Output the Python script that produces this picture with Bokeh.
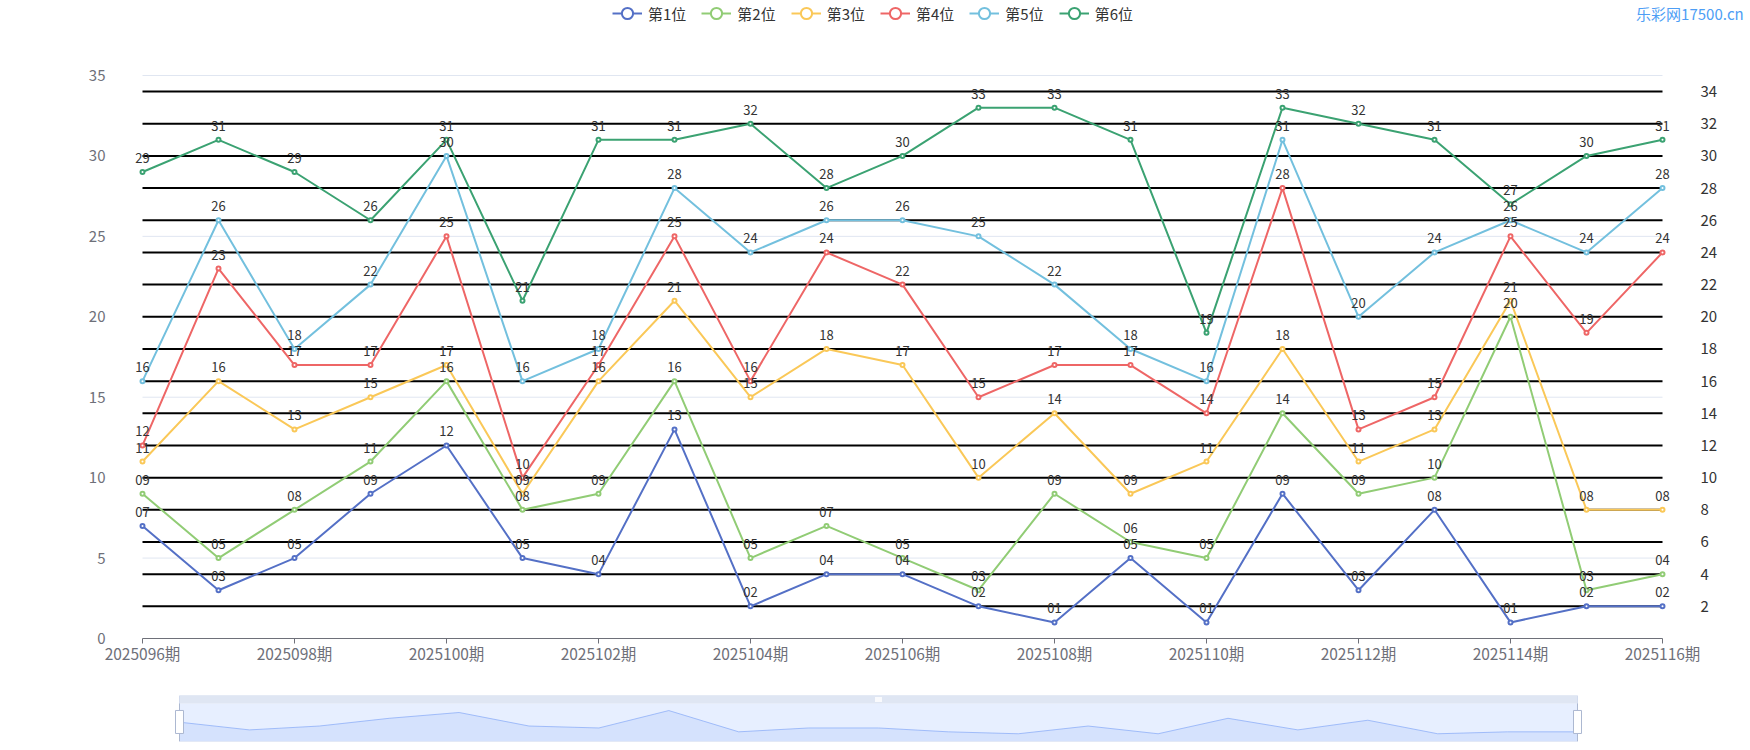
from bokeh.plotting import figure
from bokeh.models import (Range1d, LinearAxis, FixedTicker, Legend, LegendItem,
                          Label, LabelSet, ColumnDataSource)
from bokeh.layouts import column
from bokeh.embed import file_html
from bokeh.resources import INLINE
from bokeh.core.properties import value

# ---------------- data ----------------
periods = ["2025096期", "2025097期", "2025098期", "2025099期", "2025100期", "2025101期",
           "2025102期", "2025103期", "2025104期", "2025105期", "2025106期", "2025107期",
           "2025108期", "2025109期", "2025110期", "2025111期", "2025112期", "2025113期",
           "2025114期", "2025115期", "2025116期"]
pos1 = [7, 3, 5, 9, 12, 5, 4, 13, 2, 4, 4, 2, 1, 5, 1, 9, 3, 8, 1, 2, 2]
pos2 = [9, 5, 8, 11, 16, 8, 9, 16, 5, 7, 5, 3, 9, 6, 5, 14, 9, 10, 20, 3, 4]
pos3 = [11, 16, 13, 15, 17, 9, 16, 21, 15, 18, 17, 10, 14, 9, 11, 18, 11, 13, 21, 8, 8]
pos4 = [12, 23, 17, 17, 25, 10, 17, 25, 16, 24, 22, 15, 17, 17, 14, 28, 13, 15, 25, 19, 24]
pos5 = [16, 26, 18, 22, 30, 16, 18, 28, 24, 26, 26, 25, 22, 18, 16, 31, 20, 24, 26, 24, 28]
pos6 = [29, 31, 29, 26, 31, 21, 31, 31, 32, 28, 30, 33, 33, 31, 19, 33, 32, 31, 27, 30, 31]
series_names = ["第1位", "第2位", "第3位", "第4位", "第5位", "第6位"]
series_values = [pos1, pos2, pos3, pos4, pos5, pos6]
colors = ["#5470c6", "#91cc75", "#fac858", "#ee6666", "#73c0de", "#3ba272"]
left_ticks = [0, 5, 10, 15, 20, 25, 30, 35]
right_ticks = [2, 4, 6, 8, 10, 12, 14, 16, 18, 20, 22, 24, 26, 28, 30, 32, 34]
x_label_ticks = [0, 2, 4, 6, 8, 10, 12, 14, 16, 18, 20]
watermark = "乐彩网17500.cn"

FONT = "Noto Sans CJK SC"
xs = list(range(len(periods)))
n_last = xs[-1]

# ---------------- layout constants (page pixels) ----------------
W, H1, H2 = 1750, 680, 70
FL, FR = 120, 1745            # plotting frame (wide so labels / legend are not clipped)
DL, DR = 142, 1662            # where the data start / end
AX_Y = 638                    # x axis position
PX_X = (DR - DL) / n_last
PX_Y = (AX_Y - 75) / 35
YMAX = AX_Y / PX_Y

# ---------------- main chart ----------------
p = figure(width=W, height=H1,
           x_range=Range1d(xs[0] - (DL - FL) / PX_X, n_last + (FR - DR) / PX_X),
           y_range=Range1d(0, YMAX),
           output_backend="svg", toolbar_location=None,
           min_border_left=FL, min_border_right=W - FR, min_border_top=0,
           min_border_bottom=H1 - AX_Y)
p.outline_line_color = None
p.background_fill_color = "white"
p.border_fill_color = "white"
p.grid.visible = False

# x axis
xa = p.xaxis[0]
xa.bounds = (xs[0], n_last)
xa.ticker = FixedTicker(ticks=x_label_ticks)
xa.major_label_overrides = {i: periods[i] for i in x_label_ticks}
xa.axis_line_color = "#6E7079"
xa.major_tick_line_color = "#6E7079"
xa.major_tick_out = 5
xa.major_tick_in = 0
xa.minor_tick_line_color = None
xa.major_label_standoff = -2
xa.major_label_text_font = FONT
xa.major_label_text_font_size = "15.5px"
xa.major_label_text_color = "#6E7079"

# left y axis (labels end near x=105)
ya = p.yaxis[0]
ya.ticker = FixedTicker(ticks=left_ticks)
ya.axis_line_color = None
ya.major_tick_line_color = None
ya.minor_tick_line_color = None
ya.major_tick_out = 0
ya.major_tick_in = 0
ya.major_label_standoff = FL - 105
ya.major_label_text_font = FONT
ya.major_label_text_font_size = "15px"
ya.major_label_text_color = "#6E7079"

# right y axis (labels start near x=1700)
p.extra_y_ranges = {"right": Range1d(0, YMAX)}
ra = LinearAxis(y_range_name="right", ticker=FixedTicker(ticks=right_ticks))
ra.axis_line_color = None
ra.major_tick_line_color = None
ra.minor_tick_line_color = None
ra.major_tick_out = 0
ra.major_tick_in = 0
ra.major_label_standoff = 1700 - FR
ra.major_label_text_font = FONT
ra.major_label_text_font_size = "15px"
ra.major_label_text_color = "#333333"
p.add_layout(ra, "right")

# split lines (left axis: light, right axis: black), limited to the data span
p.segment(x0=xs[0], x1=n_last, y0=left_ticks, y1=left_ticks,
          line_color="#E0E6F1", line_width=1)
p.segment(x0=xs[0], x1=n_last, y0=right_ticks, y1=right_ticks, y_range_name="right",
          line_color="black", line_width=2)

items = []
for name, vals, col in zip(series_names, series_values, colors):
    lr = p.line(xs, vals, line_color=col, line_width=2)
    sr = p.scatter(xs, vals, size=4, marker="circle", fill_color="white",
                   line_color=col, line_width=2)
    items.append(LegendItem(label=name, renderers=[lr, sr]))

for vals in series_values:
    src = ColumnDataSource(dict(x=xs, y=vals, t=[f"{v:02d}" for v in vals]))
    p.add_layout(LabelSet(x="x", y="y", text="t", source=src, text_align="center",
                          text_baseline="bottom", y_offset=9, text_font=value(FONT),
                          text_font_size="13px", text_color="#333333"))

legend = Legend(items=items, orientation="horizontal", location=(612 - FL, AX_Y - 27),
                glyph_width=30, glyph_height=28, label_standoff=6, spacing=15,
                padding=0, margin=0, border_line_color=None, background_fill_alpha=0,
                label_text_font=FONT, label_text_font_size="15px", label_text_color="#333333")
p.add_layout(legend, "center")

p.add_layout(Label(x=n_last + (1743 - DR) / PX_X, y=(AX_Y - 13) / PX_Y, text=watermark,
                   text_align="right", text_baseline="middle",
                   text_font=FONT, text_font_size="15px", text_color="#4d9ef5"))

# ---------------- data-zoom slider ----------------
SL, SR = 179, 1577
px_s = (SR - SL) / n_last
p2 = figure(width=W, height=H2,
            x_range=Range1d(xs[0] - (SL - FL) / px_s, n_last + (FR - SR) / px_s),
            y_range=Range1d(-3.0, 20.8),
            output_backend="svg", toolbar_location=None,
            min_border_left=FL, min_border_right=W - FR, min_border_top=15,
            min_border_bottom=9)
p2.axis.visible = False
p2.grid.visible = False
p2.background_fill_color = "white"
p2.border_fill_color = "white"
p2.outline_line_color = None

lo, hi = xs[0], n_last
p2.quad(left=lo, right=hi, bottom=-3.0, top=16.66, fill_color="#e7efff", line_color=None)
p2.quad(left=lo, right=hi, bottom=16.66, top=20.8, fill_color="#D2DBEE", fill_alpha=0.7,
        line_color=None)
p2.varea(x=xs, y1=-3.0, y2=pos1, fill_color="#8fb0f7", fill_alpha=0.2)
p2.line(xs, pos1, line_color="#8fb0f7", line_width=0.8)
p2.quad(left=lo, right=hi, bottom=-3.0, top=20.8, fill_color=None, line_color="#d2dbee",
        line_width=1)
ends = [lo, hi]
p2.segment(x0=ends, x1=ends, y0=-3.0, y1=16.66, line_color="#ACB8D1", line_width=1)
p2.rect(x=ends, y=7.1, width=8, height=23, width_units="screen", height_units="screen",
        fill_color="white", line_color="#ACB8D1", line_width=1)
p2.rect(x=[(lo + hi) / 2], y=18.7, width=7, height=5, width_units="screen",
        height_units="screen", fill_color="white", fill_alpha=0.8, line_color=None)

layout = column(p, p2, spacing=0)
open("out.html", "w").write(file_html(layout, INLINE))
